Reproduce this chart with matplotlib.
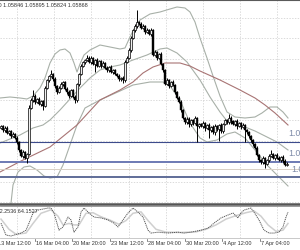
"""EURUSD hourly chart: candles, Bollinger bands, MA, levels and a stochastic panel."""

from __future__ import annotations

import matplotlib

matplotlib.use("Agg")
import matplotlib.pyplot as plt
import numpy as np
from matplotlib.transforms import blended_transform_factory

# ---- price data (one candle per entry) ----
first_open = 1.0658
closes = [
    1.0662, 1.0654, 1.0658, 1.0648, 1.0652, 1.0642, 1.0646, 1.0638,
    1.0630, 1.0614, 1.0602, 1.0610, 1.0598, 1.0606,
    1.0698,
    1.0714, 1.0722, 1.0710,
    1.0716, 1.0706, 1.0712, 1.0702,
    1.0738, 1.0754,
    1.0762, 1.0766, 1.0756,
    1.0742, 1.0730, 1.0738,
    1.0746, 1.0750, 1.0736,
    1.0730, 1.0722, 1.0734, 1.0720, 1.0714,
    1.0746, 1.0766,
    1.0782, 1.0790, 1.0794, 1.0798,
    1.0790, 1.0798, 1.0786, 1.0794, 1.0782, 1.0792,
    1.0782, 1.0788, 1.0778,
    1.0774, 1.0780, 1.0770, 1.0774, 1.0766, 1.0762,
    1.0756, 1.0758, 1.0754,
    1.0790, 1.0798,
    1.0814, 1.0838,
    1.0854, 1.0862, 1.0870, 1.0866,
    1.0858, 1.0862, 1.0850, 1.0854, 1.0846,
    1.0854,
    1.0804,
    1.0810, 1.0798, 1.0806,
    1.0786, 1.0774,
    1.0746,
    1.0754, 1.0742, 1.0750, 1.0744,
    1.0730, 1.0718, 1.0710,
    1.0694, 1.0678,
    1.0670, 1.0676, 1.0666, 1.0674, 1.0668,
    1.0678, 1.0662, 1.0666,
    1.0662, 1.0668, 1.0658, 1.0664,
    1.0654, 1.0660, 1.0650,
    1.0662, 1.0656, 1.0664, 1.0652,
    1.0666, 1.0674, 1.0670, 1.0678, 1.0672,
    1.0666, 1.0672, 1.0662, 1.0668, 1.0660, 1.0664,
    1.0654,
    1.0650, 1.0642,
    1.0634, 1.0626, 1.0618,
    1.0604, 1.0594,
    1.0590, 1.0598, 1.0586, 1.0594,
    1.0602, 1.0606, 1.0598, 1.0604,
    1.0598, 1.0594, 1.0600, 1.0592, 1.05846,
    1.05868,
]
# wick lengths in pips above / below the candle body
wick_up = [
    3, 2, 4, 3, 2, 3, 4, 2, 3, 2,
    3, 4, 2, 3, 6, 4, 12, 3, 2, 4,
    3, 2, 4, 3, 2, 8, 3, 4, 2, 3,
    4, 3, 2, 3, 4, 2, 3, 4, 3, 2,
    4, 3, 2, 6, 3, 4, 2, 3, 5, 2,
    3, 4, 2, 3, 2, 4, 3, 2, 3, 4,
    2, 3, 4, 3, 5, 4, 3, 4, 24, 3,
    4, 3, 2, 4, 3, 5, 3, 4, 2, 3,
    4, 2, 3, 4, 3, 2, 4, 3, 2, 3,
    4, 3, 2, 3, 4, 2, 3, 4, 2, 3,
    3, 4, 2, 3, 4, 2, 3, 4, 2, 3,
    4, 3, 2, 3, 8, 4, 2, 3, 4, 2,
    3, 4, 2, 3, 2, 3, 2, 3, 4, 2,
    3, 4, 2, 3, 4, 8, 3, 2, 4, 3,
    2, 3, 4, 2.7,
]
wick_dn = [
    2, 3, 4, 2, 3, 4, 2, 3, 4, 3,
    2, 4, 3, 10, 3, 2, 4, 3, 2, 3,
    4, 8, 2, 3, 4, 2, 3, 4, 3, 2,
    3, 4, 2, 3, 4, 3, 2, 6, 3, 4,
    2, 3, 4, 2, 3, 4, 3, 16, 2, 3,
    4, 2, 3, 4, 3, 2, 4, 3, 2, 3,
    4, 6, 3, 2, 3, 4, 2, 3, 4, 3,
    2, 3, 4, 2, 3, 4, 2, 3, 4, 2,
    3, 4, 2, 3, 4, 2, 3, 4, 3, 2,
    3, 2, 4, 3, 6, 4, 3, 2, 32, 4,
    3, 4, 6, 3, 16, 4, 3, 6, 4, 24,
    3, 4, 2, 3, 4, 6, 3, 4, 6, 3,
    4, 3, 24, 3, 4, 3, 4, 2, 3, 4,
    3, 4, 8, 3, 4, 3, 2, 4, 3, 2,
    4, 3, 2, 2.2,
]

# ---- indicator lines (bar index, price) ----
bb_upper_x = [-0.5, 4.5, 9.5, 13, 16, 19.5, 22, 24.5, 27, 29.5, 32, 34.5, 36.5, 38,
              39.5, 41.5, 44.5, 49.5, 54.5, 59.5, 62, 64.5, 67, 69.5, 74.5, 79.5,
              84.5, 88, 92, 94.5, 97, 99.5, 103, 106, 109.5, 113, 117, 122, 127,
              130.5, 134.5, 138, 141, 143.5]
bb_upper = [1.0718, 1.0720, 1.0718, 1.0716, 1.0722, 1.0738, 1.0758, 1.0788, 1.0806,
            1.0814, 1.0816, 1.0808, 1.0788, 1.0770, 1.0786, 1.0804, 1.0814, 1.0824,
            1.0820, 1.0816, 1.0818, 1.0840, 1.0860, 1.0874, 1.0886, 1.0890, 1.0896,
            1.0900, 1.0898, 1.0890, 1.0870, 1.0838, 1.0798, 1.0762, 1.0722, 1.0690,
            1.0680, 1.0678, 1.0680, 1.0688, 1.0700, 1.0700, 1.0690, 1.0678]
bb_mid_x = [-0.5, 4.5, 9.5, 16, 21, 24.5, 29.5, 34.5, 39.5, 44.5, 49.5, 54.5, 59.5,
            66, 73, 79.5, 83, 88, 93, 99.5, 104.5, 109.5, 113, 117, 122, 127, 133,
            138, 143.5]
bb_mid = [1.0628, 1.0636, 1.0644, 1.0658, 1.0664, 1.0674, 1.0694, 1.0716, 1.0738,
          1.0758, 1.0774, 1.0780, 1.0784, 1.0794, 1.0804, 1.0816, 1.0818, 1.0808,
          1.0790, 1.0754, 1.0720, 1.0690, 1.0672, 1.0664, 1.0660, 1.0652, 1.0640,
          1.0630, 1.0614]
bb_lower_x = [4.5, 6, 8.5, 11.5, 14.5, 18, 21.5, 24.5, 28, 31, 34.5, 38, 42, 49.5,
              59.5, 66, 74.5, 81, 84.5, 89.5, 94.5, 99.5, 103, 108, 113, 117, 122,
              127, 133, 138, 143.5]
bb_lower = [1.0490, 1.0544, 1.0570, 1.0580, 1.0582, 1.0574, 1.0562, 1.0558, 1.0560,
            1.0584, 1.0624, 1.0664, 1.0698, 1.0714, 1.0732, 1.0744, 1.0750, 1.0750,
            1.0742, 1.0714, 1.0668, 1.0638, 1.0630, 1.0634, 1.0646, 1.0650, 1.0638,
            1.0614, 1.0584, 1.0564, 1.0542]
ma_x = [-0.5, 11, 24.5, 38, 49.5, 59.5, 66, 71, 76, 82, 89.5, 94.5, 99.5, 109.5,
        119.5, 127, 132, 137, 143.5]
ma = [1.0570, 1.0594, 1.0620, 1.0664, 1.0714, 1.0734, 1.0750, 1.0768, 1.0780,
      1.0788, 1.0788, 1.0782, 1.0772, 1.0754, 1.0734, 1.0718, 1.0704, 1.0688, 1.0664]

# horizontal levels
levels = [1.0630, 1.0590, 1.0576, 1.0560]
level_labels = ["1.0630", "1.0590", None, "1.0560"]

# ---- stochastic ----
stoch_k_x = [0, 2.5, 5, 10, 12.5, 14, 16, 18.5, 23.5, 25, 26.5, 29, 31, 33.5, 35,
             36.5, 38.5, 40, 41.5, 44, 46.5, 50, 53.5, 56.5, 58.5, 61, 63.5, 66,
             68.5, 71, 73.5, 75, 78.5, 83.5, 88.5, 91.5, 95, 100, 103.5, 106.5,
             110, 113.5, 116, 118.5, 120, 121.5, 125, 126.5, 129, 131.5, 134,
             136.5, 139, 141, 142.5, 143.5]
stoch_k = [46, 5, 2, 12, 22, 46, 81, 91, 98, 98, 81, 22, 33, 67, 57, 15, 33, 84, 98,
           81, 67, 64, 57, 46, 33, 57, 81, 98, 84, 67, 22, 12, 15, 12, 15, 12, 15,
           22, 29, 46, 64, 74, 81, 64, 81, 91, 98, 84, 57, 22, 12, 12, 15, 33, 67, 84]
stoch_d_x = [0, 4, 7.5, 12.5, 16, 20, 25, 28.5, 31, 34, 36.5, 39, 42.5, 46, 50, 55,
             59, 62.5, 66, 70, 73.5, 77.5, 82.5, 90, 97.5, 102.5, 107.5, 112.5,
             117.5, 122.5, 126.5, 130, 133.5, 137.5, 141, 143.5]
stoch_d = [60, 25, 8, 12, 45, 80, 92, 70, 40, 45, 40, 40, 80, 82, 68, 55, 42, 55, 80,
           85, 55, 25, 15, 14, 16, 25, 40, 60, 72, 82, 88, 70, 40, 18, 22, 45]

# time axis labels
time_labels = ["13 Mar 12:00", "16 Mar 04:00", "20 Mar 20:00", "23 Mar 12:00",
               "28 Mar 04:00", "30 Mar 20:00", "4 Apr 12:00", "7 Apr 04:00"]
time_label_bars = [-2, 16.75, 35.5, 54.25, 73, 91.75, 110.5, 129.25]

SMALL_FONT = ["Liberation Sans", "DejaVu Sans"]
W, H = 300, 250


def draw_candles(ax: plt.Axes) -> None:
    """Draw OHLC candles from closes and wick lists."""
    c = np.array(closes)
    o = np.r_[first_open, c[:-1]]
    top = np.maximum(o, c)
    bot = np.minimum(o, c)
    hi = top + np.array(wick_up) * 1e-4
    lo = bot - np.array(wick_dn) * 1e-4
    idx = np.arange(len(c))
    ax.vlines(idx, lo, hi, color="black", lw=0.7, zorder=4)
    up = c >= o
    h = np.maximum(top - bot, 0.0001)
    ax.bar(idx[~up], h[~up], bottom=bot[~up], width=0.85, color="black",
           edgecolor="black", lw=0.3, zorder=5)
    ax.bar(idx[up], h[up], bottom=bot[up], width=0.85, color="#f0f0f0",
           edgecolor="black", lw=0.5, zorder=5)


def main() -> None:
    fig = plt.figure(figsize=(W / 100, H / 100), dpi=100)
    fig.patch.set_facecolor("white")

    ax = fig.add_axes([0, 1 - 204 / H, 1, 204 / H])
    osc = fig.add_axes([0, 12 / H, 1, 32 / H])

    for a in (ax, osc):
        a.set_xlim(-0.5, 149.5)
        a.set_xticks([])
        a.set_yticks([])
        for s in ("left", "right"):
            a.spines[s].set_visible(False)

    ax.set_ylim(1.0506, 1.0914)
    ax.spines["top"].set_color("#5a5a5a")
    ax.spines["top"].set_linewidth(0.8)
    ax.spines["bottom"].set_color("#555555")
    ax.spines["bottom"].set_linewidth(1.8)
    osc.spines["top"].set_color("#8a8a8a")
    osc.spines["top"].set_linewidth(0.6)
    osc.spines["bottom"].set_color("#c0c0c0")
    osc.spines["bottom"].set_linewidth(0.6)
    osc.set_ylim(-5, 105)

    # dashed grid
    grid_kw = dict(color="#cccccc", lw=0.5, dashes=(2, 2), zorder=1)
    for k in range(8):
        xg = 8 + 18.6 * k
        ax.axvline(xg, **grid_kw)
        osc.axvline(xg, **grid_kw)
    for k in range(10):
        ax.axhline(1.0878 - 0.0041 * k, **grid_kw)

    # Bollinger bands and moving average
    band_kw = dict(color="#a8b0a8", lw=0.8, zorder=2)
    ax.plot(bb_upper_x, bb_upper, **band_kw)
    ax.plot(bb_mid_x, bb_mid, **band_kw)
    ax.plot(bb_lower_x, bb_lower, **band_kw)
    ax.plot(ma_x, ma, color="#a87474", lw=0.8, zorder=2)

    # horizontal levels
    lvl_styles = [("#3d4b8c", 0.8), ("#6c7ab4", 1.4), ("#d8d0c6", 0.7), ("#5f6c98", 1.4)]
    for price, (col, lw) in zip(levels, lvl_styles):
        ax.axhline(price, color=col, lw=lw, zorder=3)

    draw_candles(ax)

    # level labels at the right edge (cut by the image border)
    label_y_px = [133, 153, None, 170]
    label_x_px = [288, 288, None, 291]
    for txt, ypx, xpx in zip(level_labels, label_y_px, label_x_px):
        if txt is None:
            continue
        fig.text(xpx / W, 1 - ypx / H, txt, ha="left", va="center", fontsize=6.3,
                 color="#7d8aa8", family=["Liberation Sans", "DejaVu Sans"], zorder=6)

    # stochastic
    osc.plot(stoch_d_x, stoch_d, color="#cfcfcf", lw=1.1, zorder=2)
    osc.plot(stoch_k_x, stoch_k, color="#555555", lw=0.7, ls=(0, (1.2, 0.8)), zorder=3)

    # header texts
    fig.text(88 / W, 1 - 5 / H, "EURUSD,M30 1.05846 1.05895 1.05824 1.05868",
             ha="right", va="center", fontsize=4.0, color="#333333", family=SMALL_FONT)
    fig.text(38 / W, 1 - 211 / H, "Stoch(5,3,3) 62.2536 64.1527",
             ha="right", va="center", fontsize=4.0, color="#333333", family=SMALL_FONT)

    # time axis
    trans = blended_transform_factory(osc.transData, osc.transAxes)
    for bar_x, lab in zip(time_label_bars, time_labels):
        osc.plot([bar_x, bar_x], [-0.02, -0.1], color="#555555", lw=0.5,
                 transform=trans, clip_on=False)
        osc.text(bar_x + 0.6, -0.16, lab, transform=trans, ha="left", va="center",
                 fontsize=4.0, color="#333333", family=SMALL_FONT)

    fig.savefig("out.png", dpi=100, facecolor="white")
    plt.close(fig)


if __name__ == "__main__":
    main()
